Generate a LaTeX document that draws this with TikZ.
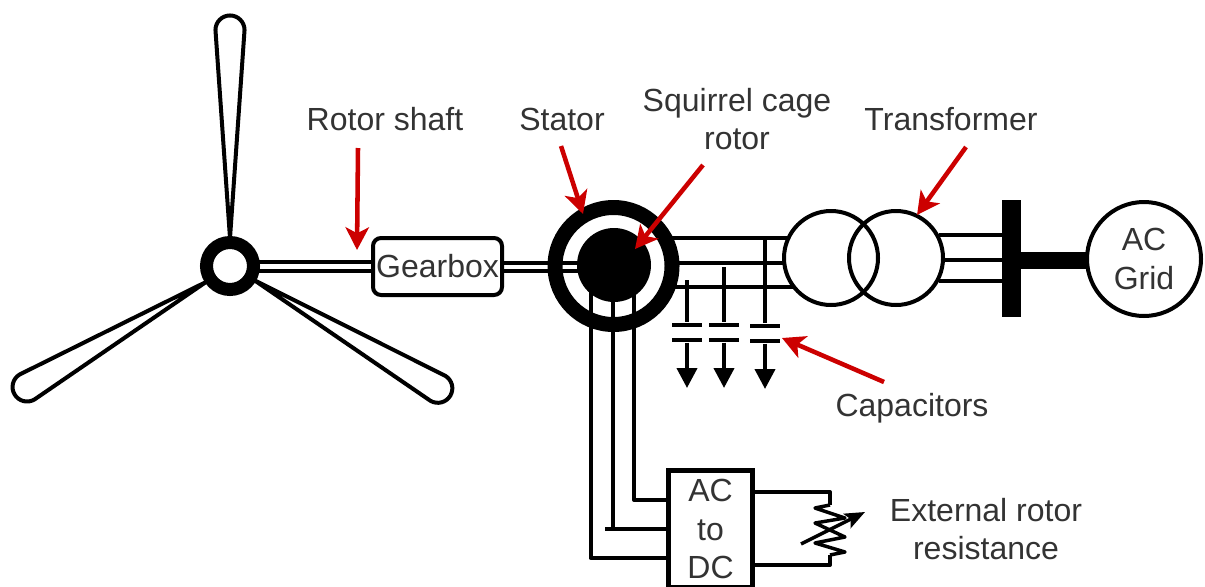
\documentclass[tikz,border=0pt]{standalone}
\usepackage{fontspec}
\setmainfont{Liberation Sans}
\usetikzlibrary{arrows.meta,backgrounds}
\definecolor{redarrow}{HTML}{CC0000}
\definecolor{txt}{HTML}{333333}
\tikzset{
  wire/.style={line width=3pt,line join=round,black},
  ringnode/.style={circle,draw=black,inner sep=0pt},
  label/.style={font=\fontsize{24}{29}\selectfont,text=txt,align=center,inner sep=0pt},
  callout/.style={line width=3.4pt,redarrow,-{Stealth[length=17pt,width=17.5pt,inset=4.5pt]}},
  plate/.style={fill=black,inner sep=0pt,minimum width=22.5pt,minimum height=3.6pt},
  groundarrow/.style={wire,-{Triangle[length=15pt,width=15pt]}},
  blade/.style={line width=3pt,line join=round,draw=black,fill=white},
}
\begin{document}
\begin{tikzpicture}[x=0.75pt,y=-0.75pt]
\useasboundingbox (0,0) rectangle (1205,586);
% nodes
\node[ringnode,fill=white,line width=9.75pt,minimum size=35.25pt] (hub) at (230,266) {};
\node[draw=black,fill=white,rounded corners=6pt,line width=3pt,minimum width=96.75pt,minimum height=42.75pt,label] (gearbox) at (437.5,266.5) {Gearbox};
\node[ringnode,line width=11.25pt,minimum size=87.75pt] (stator) at (613.5,266) {};
\node[circle,fill=black,inner sep=0pt,minimum size=55.5pt] (rotor) at (614,265) {};
\node[ringnode,fill=white,line width=3pt,minimum size=70.5pt] (xfa) at (831,258) {};
\node[ringnode,line width=3pt,minimum size=70.5pt] (xfb) at (896,258) {};
\node[fill=black,inner sep=0pt,minimum width=14.25pt,minimum height=87.75pt] (bus) at (1011.5,258.5) {};
\node[ringnode,fill=white,line width=3pt,minimum size=85.5pt,label] (grid) at (1144,259) {AC\\Grid};
\node[draw=black,fill=white,line width=3.4pt,minimum width=63.35pt,minimum height=88.1pt,label] (conv) at (710.5,529) {AC\\to\\DC};
\node[plate] (ca) at (687,325) {};
\node[plate] (cb) at (724,325) {};
\node[plate] (cc) at (765,326) {};
\node[plate] (da) at (687,340) {};
\node[plate] (db) at (724,340) {};
\node[plate] (dc) at (765,341) {};
% labels
\node[label] (lshaft) at (385,119) {Rotor shaft};
\node[label] (lstator) at (562,119) {Stator};
\node[label] (lcage) at (737,119) {Squirrel cage\\rotor};
\node[label] (ltrans) at (951,119) {Transformer};
\node[label] (lcaps) at (912,408) {Capacitors};
\node[label] (lext) at (986,529) {External rotor\\resistance};
% levels and free ends
\coordinate (sa) at (255,262); \coordinate (sb) at (255,271);
\coordinate (ga) at (0,263); \coordinate (gb) at (0,270.5);
\coordinate (ra) at (0,238); \coordinate (rb) at (0,263); \coordinate (rc) at (0,287);
\coordinate (stR) at (665,0);
\coordinate (va) at (590.5,280); \coordinate (vb) at (613,280); \coordinate (vc) at (634,280);
\coordinate (ha) at (0,558); \coordinate (hb) at (0,529); \coordinate (hc) at (0,500);
\coordinate (tickb) at (605,529);
\coordinate (ea) at (0,492); \coordinate (eb) at (0,565); \coordinate (ex) at (830,0);
\coordinate (sca) at (687,280); \coordinate (scb) at (724,267); \coordinate (scc) at (765,238);
\coordinate (gaend) at (687,388); \coordinate (gbend) at (724,388); \coordinate (gcend) at (765,389);
\coordinate (ra1) at (830,505); \coordinate (ra8) at (830,555);
\coordinate (rarrS) at (801,544); \coordinate (rarrE) at (865,512);
% connectors under the shapes
\begin{scope}[on background layer]
  \draw[blade,shift={(230,238)},rotate=90,x=1pt,y=1pt] (0,0) -- (156,10.9) arc[start angle=90,end angle=-90,radius=10.9] -- cycle;
  \draw[blade,shift={(206,282)},rotate=210.4,x=1pt,y=1pt] (0,0) -- (155.6,10.9) arc[start angle=90,end angle=-90,radius=10.9] -- cycle;
  \draw[blade,shift={(254,280)},rotate=-30.5,x=1pt,y=1pt] (0,0) -- (160,10.9) arc[start angle=90,end angle=-90,radius=10.9] -- cycle;
  \draw[wire] (sa) -- (gearbox.west |- sa);
  \draw[wire] (sb) -- (gearbox.west |- sb);
  \draw[wire] (gearbox.east |- ga) -- (rotor.center |- ga);
  \draw[wire] (gearbox.east |- gb) -- (rotor.center |- gb);
  \draw[wire] (stR |- ra) -- (xfa.center |- ra);
  \draw[wire] (stR |- rb) -- (xfa.center |- rb);
  \draw[wire] (stR |- rc) -- (xfa.center |- rc);
  \draw[wire] (xfb.28) -- (bus.center |- xfb.28);
  \draw[wire] (xfb.east |- 0,260) -- (bus.center |- 0,260);
  \draw[wire] (xfb.-28) -- (bus.center |- xfb.-28);
  \draw[fill=black,draw=none] (bus.center |- 0,252) rectangle (grid.center |- 0,269);
  \draw[wire] (va) -- (va |- ha) -- (conv.center |- ha);
  \draw[wire] (vb) -- (vb |- hb);
  \draw[wire] (tickb) -- (conv.center |- hb);
  \draw[wire] (vc) -- (vc |- hc) -- (conv.center |- hc);
  \draw[wire] (conv.center |- ea) -- (ex |- ea) -- (ra1);
  \draw[wire] (conv.center |- eb) -- (ex |- eb) -- (ra8);
\end{scope}
% capacitors
\draw[wire] (sca) -- (ca.north);
\draw[wire] (scb) -- (cb.north);
\draw[wire] (scc) -- (cc.north);
\draw[groundarrow] (da.south) -- (gaend);
\draw[groundarrow] (db.south) -- (gbend);
\draw[groundarrow] (dc.south) -- (gcend);
% variable resistor
\draw[wire,line width=2.6pt] (ra1) -- (815,508) -- (845,518) -- (815,523) -- (845,537) -- (815,543) -- (845,552) -- (ra8);
\draw[wire,line width=2.6pt,-{Stealth[length=15pt,width=12pt,inset=3pt]}] (rarrS) -- (rarrE);
% callouts
\coordinate (tipa) at (357,250); \coordinate (taila) at (358,148);
\coordinate (tipb) at (583,214); \coordinate (tailb) at (561,146);
\coordinate (tipc) at (635,249); \coordinate (tailc) at (703,165);
\coordinate (tipd) at (917,215); \coordinate (taild) at (966,147);
\coordinate (tipe) at (782,338); \coordinate (taile) at (884,382);
\draw[callout] (taila) -- (tipa);
\draw[callout] (tailb) -- (tipb);
\draw[callout] (tailc) -- (tipc);
\draw[callout] (taild) -- (tipd);
\draw[callout] (taile) -- (tipe);
\end{tikzpicture}
\end{document}
